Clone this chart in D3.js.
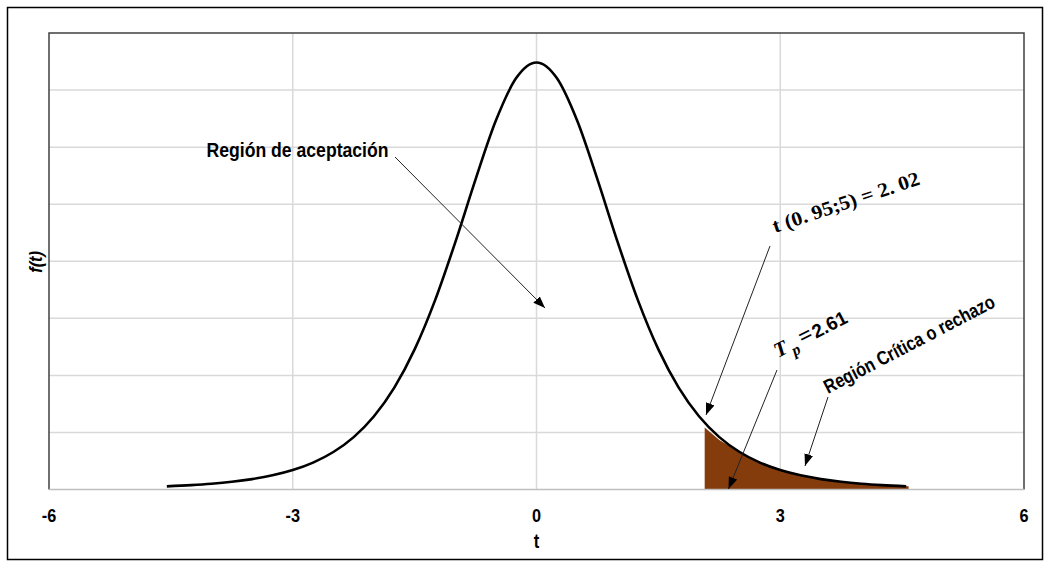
<!DOCTYPE html>
<html><head><meta charset="utf-8">
<script src="https://cdn.jsdelivr.net/npm/d3@7/dist/d3.min.js"></script>
<style>body{margin:0;background:#fff}svg{display:block}</style>
</head><body>
<svg id="c" width="1051" height="567"></svg>
<script>
// Data (Student t density, 5 d.f.)
const tValues = [-4.55,-4.25,-4,-3.75,-3.5,-3.25,-3,-2.75,-2.5,-2.25,-2,-1.75,-1.5,-1.25,-1,-0.75,-0.5,-0.25,0,0.25,0.5,0.75,1,1.25,1.5,1.75,2,2.25,2.5,2.75,3,3.25,3.5,3.75,4,4.25,4.55];
const fValues = [0.00280,0.00387,0.00512,0.00685,0.00925,0.01259,0.01729,0.02393,0.03333,0.04657,0.06509,0.09054,0.12452,0.16790,0.21968,0.27570,0.32793,0.36573,0.37961,0.36573,0.32793,0.27570,0.21968,0.16790,0.12452,0.09054,0.06509,0.04657,0.03333,0.02393,0.01729,0.01259,0.00925,0.00685,0.00512,0.00387,0.00280];
const shadeT = [2.07,2.25,2.5,2.75,3,3.25,3.5,3.75,4,4.25,4.58];
const shadeF = [0.0551,0.0440,0.0333,0.02393,0.01729,0.01259,0.00925,0.00685,0.00512,0.00387,0.00280];
const xTicks = [-6,-3,0,3,6];
const xTickLabels = ["-6","-3","0","3","6"];
const yMax = 0.4058;
const yGridCount = 8;

const svg = d3.select("#c");
const L = 49, R = 1024, T = 33, B = 489.5;
const x = d3.scaleLinear().domain([-6,6]).range([L,R]);
const y = d3.scaleLinear().domain([0,yMax]).range([B,T]);
const sans = "'Liberation Sans Narrow','Arial Narrow','Liberation Sans',Arial,sans-serif";

// outer border
svg.append("rect").attr("x",7.5).attr("y",7.5).attr("width",1035).attr("height",552)
  .attr("fill","none").attr("stroke","#000").attr("stroke-width",1.5);

// gridlines
const yGrid = d3.range(1,yGridCount).map(i=>i*yMax/yGridCount);
svg.append("g").selectAll("line").data(yGrid).join("line")
  .attr("x1",L).attr("x2",R).attr("y1",d=>y(d)).attr("y2",d=>y(d))
  .attr("stroke","#d9d9d9").attr("stroke-width",1.5);
svg.append("g").selectAll("line").data(xTicks.slice(1,-1)).join("line")
  .attr("x1",d=>x(d)).attr("x2",d=>x(d)).attr("y1",T).attr("y2",B)
  .attr("stroke","#d9d9d9").attr("stroke-width",1.5);

// shaded critical region
const area = d3.area().x((d,i)=>x(shadeT[i])).y0(y(0)).y1((d,i)=>y(shadeF[i]));
svg.append("path").datum(shadeT).attr("d",area).attr("fill","#843c0c");

// plot frame
svg.append("path").attr("d",`M${L},${B}V${T}H${R}V${B}`).attr("fill","none")
  .attr("stroke","#404040").attr("stroke-width",1.5);
svg.append("line").attr("x1",L).attr("x2",R).attr("y1",B).attr("y2",B)
  .attr("stroke","#bfbfbf").attr("stroke-width",1.5);

// curve
const line = d3.line().x((d,i)=>x(tValues[i])).y((d,i)=>y(fValues[i])).curve(d3.curveMonotoneX);
svg.append("path").datum(tValues).attr("d",line).attr("fill","none")
  .attr("stroke","#000").attr("stroke-width",2.6);

// x axis tick labels (condensed look)
svg.append("g").selectAll("text").data(xTicks).join("text")
  .attr("transform",d=>`translate(${x(d)},521.5) scale(0.88,1)`).attr("text-anchor","middle")
  .attr("font-family",sans).attr("font-weight","bold").attr("font-size",18.5)
  .text((d,i)=>xTickLabels[i]);
svg.append("text").attr("transform",`translate(${x(0)},548) scale(0.85,1)`).attr("text-anchor","middle")
  .attr("font-family",sans).attr("font-weight","bold").attr("font-size",19.5).text("t");
svg.append("text").attr("transform","translate(42,262) rotate(-90) scale(0.85,1)").attr("text-anchor","middle")
  .attr("font-family",sans).attr("font-weight","bold").attr("font-style","italic").attr("font-size",19).text("f(t)");

// arrows
const defs = svg.append("defs");
defs.append("marker").attr("id","ah").attr("markerUnits","userSpaceOnUse")
  .attr("markerWidth",13).attr("markerHeight",9).attr("refX",12).attr("refY",4.5).attr("orient","auto")
  .append("path").attr("d","M0,0L12,4.5L0,9Z").attr("fill","#000");
const arrows = [[395,157,545,308],[770,246,706,415],[777,370,728.5,489],[828,397,805,466]];
svg.append("g").selectAll("line").data(arrows).join("line")
  .attr("x1",d=>d[0]).attr("y1",d=>d[1]).attr("x2",d=>d[2]).attr("y2",d=>d[3])
  .attr("stroke","#222").attr("stroke-width",1).attr("marker-end","url(#ah)");

// annotations
svg.append("text").attr("x",206.5).attr("y",157).attr("font-family",sans).attr("font-weight","bold")
  .attr("font-size",21).attr("textLength",182).attr("lengthAdjust","spacingAndGlyphs").text("Región de aceptación");
svg.append("text").attr("transform","translate(828,394) rotate(-27.5)").attr("font-family",sans).attr("font-weight","bold")
  .attr("font-size",19.5).attr("textLength",190).attr("lengthAdjust","spacingAndGlyphs").text("Región Crítica o rechazo");
svg.append("text").attr("transform","translate(775,233) rotate(-18.5)")
  .attr("font-family","'Liberation Serif','DejaVu Serif',serif").attr("font-weight","bold").attr("font-size",20)
  .attr("textLength",154).attr("lengthAdjust","spacingAndGlyphs").attr("xml:space","preserve").text("t (0. 95;5) = 2. 02");
const tp = svg.append("text").attr("transform","translate(778,358) rotate(-27)")
  .attr("font-family","'Liberation Serif','DejaVu Serif',serif").attr("font-size",21);
tp.append("tspan").attr("font-style","italic").attr("font-weight","bold").text("T");
tp.append("tspan").attr("font-style","italic").attr("font-weight","bold").attr("font-size",16).attr("dy",6).attr("dx",3).text("p");
tp.append("tspan").attr("dy",-6).attr("dx",4).attr("font-size",24).attr("font-weight","bold").text("=");
tp.append("tspan").attr("dx",1).attr("font-family",sans).attr("font-weight","bold").attr("font-size",19).text("2.61");
</script>
</body></html>
